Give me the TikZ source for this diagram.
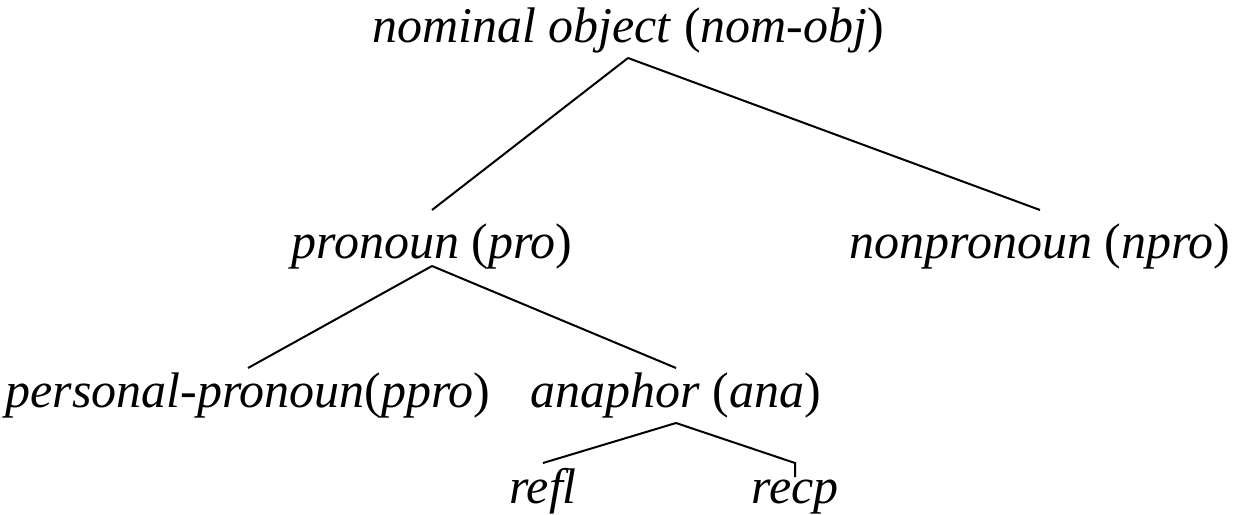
\documentclass[tikz,border=0pt]{standalone}
\usepackage{fontspec}
\newfontfamily\romano{Liberation Serif}
\usetikzlibrary{positioning}

\newcommand{\cat}[2]{\textit{#1} \textup{(}\textit{#2}\textup{)}}

\begin{document}
\begin{tikzpicture}[x=1pt,y=-1pt,line width=2pt,
every node/.style={inner sep=0pt,anchor=base,font=\romano\fontsize{50}{58}\selectfont\itshape},
radice/.style={text depth=15pt},
medio/.style={text height=47pt,text depth=7pt},
basso/.style={text height=38pt,text depth=15pt},
foglia/.style={text height=39pt,text depth=0pt}
]
\useasboundingbox (0,0) rectangle (1238,514);
\node[radice](nomobj) at (628,42){\cat{nominal object}{nom-obj}};
%--
\node[medio](pro) at (432,258){\cat{pronoun}{pro}};
\node[medio](npro) at (1040,258){\cat{nonpronoun}{npro}};
\draw (nomobj.south) -- (pro.north);
\draw (nomobj.south) -- (npro.north);
%--
\node[basso](ppro) at (248,407){\textit{personal-pronoun}\textup{(}\textit{ppro}\textup{)}};
\node[basso](ana) at (676,407){\cat{anaphor}{ana}};
\draw (pro.south) -- (ppro.north);
\draw (pro.south) -- (ana.north);
%--
\node[foglia](refl) at (543,503){refl};
\node[foglia,text height=25pt](recp) at (795,503){recp};
\draw (ana.south) -- (refl.north);
\draw (ana.south) -- (recp.north |- refl.north) -- (recp.north);
\end{tikzpicture}
\end{document}
